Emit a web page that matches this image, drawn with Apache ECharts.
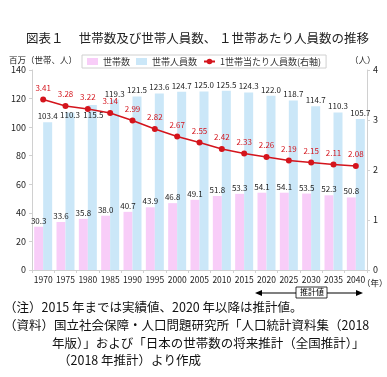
<!DOCTYPE html>
<html>
<head>
<meta charset="utf-8">
<script src="https://cdn.jsdelivr.net/npm/echarts@6/dist/echarts.min.js"></script>
<style>
  html, body { margin: 0; padding: 0; background: #fff; }
  #main { width: 387px; height: 377px; }
</style>
</head>
<body>
<div id="main"></div>
<script>
// データ
var years = ['1970', '1975', '1980', '1985', '1990', '1995', '2000', '2005', '2010', '2015', '2020', '2025', '2030', '2035', '2040'];
var households = [30.3, 33.6, 35.8, 38.0, 40.7, 43.9, 46.8, 49.1, 51.8, 53.3, 54.1, 54.1, 53.5, 52.3, 50.8];
var members = [103.4, 110.3, 115.5, 119.3, 121.5, 123.6, 124.7, 125.0, 125.5, 124.3, 122.0, 118.7, 114.7, 110.3, 105.7];
var perHousehold = [3.41, 3.28, 3.22, 3.14, 2.99, 2.82, 2.67, 2.55, 2.42, 2.33, 2.26, 2.19, 2.15, 2.11, 2.08];

var FONT = '"Noto Sans CJK JP", "Noto Sans", sans-serif';

// 折れ線と重なるラベルは棒の中へずらす
var memberData = members.map(function (v, i) {
    if (i === 1) return { value: v, label: { position: 'insideTop', offset: [0, -3] } };
    if (i === 2) return { value: v, label: { position: 'insideTop', offset: [1, 4] } };
    return v;
});

var chart = echarts.init(document.getElementById('main'));

chart.setOption({
    animation: false,
    textStyle: { fontFamily: FONT },
    title: {
        text: '図表１　 世帯数及び世帯人員数、 １世帯あたり人員数の推移',
        left: 21,
        top: 27,
        textStyle: { fontSize: 12.5, fontWeight: 'normal', color: '#222', fontFamily: FONT }
    },
    legend: {
        left: 82,
        top: 55,
        padding: [2, 5],
        borderColor: '#d0d0d0',
        borderWidth: 1,
        itemWidth: 11,
        itemHeight: 7,
        itemGap: 6,
        textStyle: { fontSize: 9, color: '#333' },
        data: [
            { name: '世帯数', icon: 'rect' },
            { name: '世帯人員数', icon: 'rect' },
            { name: '1世帯当たり人員数(右軸)' }
        ]
    },
    grid: { left: 32, right: 20, top: 70, bottom: 107 },
    xAxis: {
        type: 'category',
        data: years,
        axisLine: { lineStyle: { color: '#d0d0d0' } },
        axisTick: { show: true, length: 3, lineStyle: { color: '#d0d0d0' } },
        axisLabel: { fontSize: 8.5, color: '#222', margin: 6, interval: 0 }
    },
    yAxis: [
        {
            type: 'value', min: 0, max: 140, interval: 20,
            splitLine: { show: false },
            axisLine: { show: true, lineStyle: { color: '#d0d0d0' } },
            axisTick: { show: true, length: 3, lineStyle: { color: '#d0d0d0' } },
            axisLabel: { fontSize: 9, color: '#222', margin: 6 }
        },
        {
            type: 'value', min: 0, max: 4, interval: 1,
            splitLine: { show: false },
            axisLine: { show: true, lineStyle: { color: '#d0d0d0' } },
            axisTick: { show: true, length: 3, lineStyle: { color: '#d0d0d0' } },
            axisLabel: { fontSize: 9, color: '#222', margin: 6 }
        }
    ],
    series: [
        {
            name: '世帯数',
            type: 'bar',
            data: households,
            barWidth: 9,
            barGap: '0%',
            itemStyle: { color: '#f8cdf8' },
            label: {
                show: true, position: 'top', distance: 2, fontSize: 8, color: '#222',
                formatter: function (p) { return p.value.toFixed(1); }
            }
        },
        {
            name: '世帯人員数',
            type: 'bar',
            data: memberData,
            barWidth: 9,
            itemStyle: { color: '#cbe7f8' },
            label: {
                show: true, position: 'top', distance: 2, fontSize: 8, color: '#222',
                formatter: function (p) { return Number(p.value).toFixed(1); }
            }
        },
        {
            name: '1世帯当たり人員数(右軸)',
            type: 'line',
            yAxisIndex: 1,
            data: perHousehold,
            symbol: 'circle',
            symbolSize: 6,
            itemStyle: { color: '#d4141c' },
            lineStyle: { color: '#d4141c', width: 1.5 },
            label: {
                show: true, position: 'top', distance: 5, fontSize: 8, color: '#d4141c',
                formatter: function (p) { return p.value.toFixed(2); }
            }
        }
    ],
    graphic: [
        { type: 'text', left: 9, top: 56, style: { text: '百万（世帯、人）', font: '8.5px ' + FONT, fill: '#222' } },
        { type: 'text', left: 350, top: 56, style: { text: '（人）', font: '8.5px ' + FONT, fill: '#222' } },
        { type: 'text', left: 362, top: 279, style: { text: '（年）', font: '8.5px ' + FONT, fill: '#222' } },
        // 推計値の矢印
        { type: 'line', shape: { x1: 258, y1: 293, x2: 360, y2: 293 }, style: { stroke: '#000', lineWidth: 1.2 } },
        { type: 'polygon', shape: { points: [[255, 293], [262, 290], [262, 296]] }, style: { fill: '#000' } },
        { type: 'polygon', shape: { points: [[363, 293], [356, 290], [356, 296]] }, style: { fill: '#000' } },
        { type: 'rect', shape: { x: 296, y: 287, width: 31, height: 11 }, style: { fill: '#fff', stroke: '#000', lineWidth: 0.8 } },
        { type: 'text', left: 300, top: 288, style: { text: '推計値', font: '8px ' + FONT, fill: '#000' } },
        // 注記
        { type: 'text', left: 4, top: 301, style: { text: '（注）2015 年までは実績値、2020 年以降は推計値。', font: '12.5px ' + FONT, fill: '#111' } },
        { type: 'text', left: 4, top: 319, style: { text: '（資料）国立社会保障・人口問題研究所「人口統計資料集（2018', font: '12.5px ' + FONT, fill: '#111' } },
        { type: 'text', left: 52, top: 337, style: { text: '年版）」および「日本の世帯数の将来推計（全国推計）」', font: '12.5px ' + FONT, fill: '#111' } },
        { type: 'text', left: 58, top: 354, style: { text: '（2018 年推計）より作成', font: '12.5px ' + FONT, fill: '#111' } }
    ]
});
</script>
</body>
</html>
